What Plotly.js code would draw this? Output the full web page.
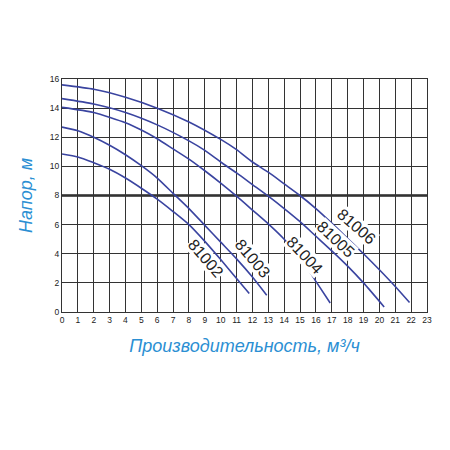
<!DOCTYPE html>
<html>
<head>
<meta charset="utf-8">
<script src="https://cdn.plot.ly/plotly-3.0.1.min.js"></script>
<style>
  html, body { margin: 0; padding: 0; background: #fff; }
  #plot { width: 450px; height: 450px; }
</style>
</head>
<body>
<div id="plot"></div>
<script>
// pump curves: flow (m3/h) vs head (m)
const x81002 = [0, 1, 2, 3, 4, 5, 6, 7, 8, 9, 10, 11, 11.8];
const y81002 = [10.85, 10.65, 10.25, 9.8, 9.2, 8.5, 7.75, 6.9, 6.0, 4.85, 3.6, 2.3, 1.27];

const x81003 = [0, 1, 2, 3, 4, 5, 6, 7, 8, 9, 10, 11, 12, 12.9];
const y81003 = [12.7, 12.45, 12.0, 11.45, 10.8, 10.05, 9.2, 8.15, 7.1, 5.95, 4.8, 3.65, 2.4, 1.15];

const x81004 = [0, 2, 4, 5, 6, 7, 8, 9, 10, 11, 12, 13, 14, 15, 16, 16.9];
const y81004 = [14.05, 13.7, 13.0, 12.5, 11.9, 11.2, 10.5, 9.7, 8.85, 7.95, 7.0, 6.05, 5.0, 3.75, 2.1, 0.62];

const x81005 = [0, 2, 4, 6, 8, 9, 10, 11, 12, 13, 14, 15, 16, 17, 18, 19, 20.3];
const y81005 = [14.65, 14.28, 13.7, 12.85, 11.75, 11.1, 10.3, 9.55, 8.75, 7.95, 7.1, 6.2, 5.2, 4.2, 3.15, 2.0, 0.35];

const x81006 = [0, 2, 4, 6, 8, 10, 11, 12, 13, 14, 15, 16, 17, 18, 19, 20, 21, 21.9];
const y81006 = [15.6, 15.3, 14.75, 14.0, 13.05, 11.85, 11.15, 10.3, 9.6, 8.8, 8.0, 7.1, 6.1, 5.05, 4.0, 2.9, 1.75, 0.65];

const models = ["81002", "81003", "81004", "81005", "81006"];
const xs = [x81002, x81003, x81004, x81005, x81006];
const ys = [y81002, y81003, y81004, y81005, y81006];

// where each model name sits on the chart, and its slant
const labelX = [9.05, 12.0, 15.3, 17.25, 18.55];
const labelY = [3.65, 3.65, 3.85, 4.95, 5.85];
const labelAngle = [49, 50, 47, 43, 41];

const gridColor = "#333";
const curveColor = "#3a44a0";
const titleColor = "#2b8fd3";

const traces = models.map((m, i) => ({
  x: xs[i],
  y: ys[i],
  name: m,
  mode: "lines",
  type: "scatter",
  line: { color: curveColor, width: 1.6, shape: "spline", smoothing: 0.6 },
  hoverinfo: "none"
}));

const annotations = models.map((m, i) => ({
  x: labelX[i],
  y: labelY[i],
  xref: "x",
  yref: "y",
  text: m,
  showarrow: false,
  textangle: labelAngle[i],
  bgcolor: "#fff",
  borderpad: 0,
  font: { family: "Liberation Sans, Arial, sans-serif", size: 16, color: "#222" }
}));

const layout = {
  width: 450,
  height: 450,
  margin: { l: 62, r: 23, t: 79, b: 138 },
  paper_bgcolor: "#fff",
  plot_bgcolor: "#fff",
  showlegend: false,
  font: { family: "Liberation Sans, Arial, sans-serif", size: 8, color: "#222" },
  xaxis: {
    range: [0, 23],
    dtick: 1,
    tick0: 0,
    showgrid: true,
    gridcolor: gridColor,
    gridwidth: 1,
    zeroline: false,
    showline: true,
    linecolor: gridColor,
    linewidth: 1,
    mirror: true,
    ticks: "",
    tickfont: { size: 8.5, color: "#222" },
    title: {
      text: "<i>Производительность, м³/ч</i>",
      font: { size: 18, color: titleColor },
      standoff: 15
    }
  },
  yaxis: {
    range: [0, 16],
    dtick: 2,
    tick0: 0,
    showgrid: true,
    gridcolor: gridColor,
    gridwidth: 1,
    zeroline: false,
    showline: true,
    linecolor: gridColor,
    linewidth: 1,
    mirror: true,
    ticks: "",
    tickfont: { size: 8.5, color: "#222" },
    title: {
      text: "<i>Напор, м</i>",
      font: { size: 18, color: titleColor },
      standoff: 12
    }
  },
  // the 8 m line is drawn heavier on the original sheet
  shapes: [{
    type: "line",
    xref: "paper",
    yref: "y",
    x0: 0,
    x1: 1,
    y0: 8,
    y1: 8,
    layer: "below",
    line: { color: "#222", width: 2.4 }
  }],
  annotations: annotations
};

Plotly.newPlot("plot", traces, layout, { staticPlot: true, displayModeBar: false });
</script>
</body>
</html>
